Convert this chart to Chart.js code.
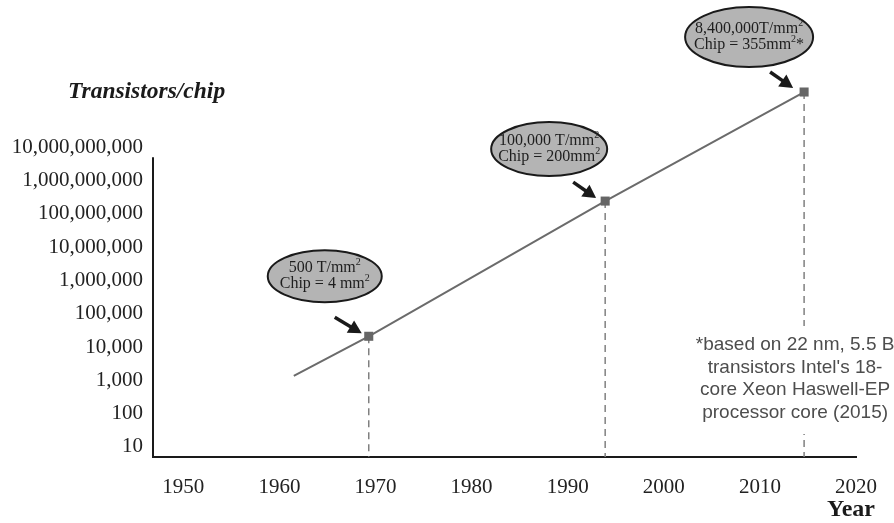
<!DOCTYPE html>
<html lang="en">
<head>
  <meta charset="UTF-8">
  <title>Transistors per chip</title>
  <style>
    body { margin: 0; background: #ffffff; }
    .wrap { width: 894px; height: 523px; position: relative; }
  </style>
  <script src="https://cdn.jsdelivr.net/npm/chart.js"></script>
</head>
<body>
  <div class="wrap"><canvas id="chart"></canvas></div>

  <script>
    // trend line: start of the line, then the three marked chips
    const years = [1961.5, 1969.3, 1993.9, 2014.6];
    const transistors = [1350, 21000, 240000000, 450000000000];
    const marked = [false, true, true, true];

    // axis ticks
    const yearTicks = [1950, 1960, 1970, 1980, 1990, 2000, 2010, 2020];
    const countTicks = [10, 100, 1000, 1e4, 1e5, 1e6, 1e7, 1e8, 1e9, 1e10];

    // bubble text for marked points 1..3, pieces are [text, superscript]
    const bubbleText = [
      [[['500 T/mm', false], ['2', true]], [['Chip = 4 mm', false], ['2', true]]],
      [[['100,000 T/mm', false], ['2', true]], [['Chip = 200mm', false], ['2', true]]],
      [[['8,400,000T/mm', false], ['2', true]], [['Chip = 355mm', false], ['2', true], ['*', false]]]
    ];

    const noteLines = [
      '*based on 22 nm, 5.5 B',
      "transistors Intel's 18-",
      'core Xeon Haswell-EP',
      'processor core (2015)'
    ];

    // placement of bubbles/arrows relative to their point (pixels)
    const bubbleBox = [
      { dx: -44, dy: -60, rx: 57, ry: 26, a: [-34, -19, -7, -3] },
      { dx: -56, dy: -52, rx: 58, ry: 27, a: [-32, -19, -9, -3] },
      { dx: -55, dy: -55, rx: 64, ry: 30, a: [-34, -20, -11, -4] }
    ];

    const serif = '"Liberation Serif", "Times New Roman", serif';
    const sans = '"Liberation Sans", Arial, sans-serif';

    const points = years.map((yr, i) => ({ x: yr, y: transistors[i] }));

    // dashed drop lines from each marked point to the x axis
    const dropSets = points.filter((p, i) => marked[i]).map(p => ({
      data: [p, { x: p.x, y: 5 }],
      borderColor: '#808080',
      borderWidth: 1.5,
      borderDash: [7, 5],
      pointRadius: 0,
      order: 2
    }));

    function drawPieces(ctx, pieces, cx, cy) {
      const big = 'normal 16px ' + serif;
      const small = 'normal 10px ' + serif;
      let w = 0;
      pieces.forEach(([t, sup]) => {
        ctx.font = sup ? small : big;
        w += ctx.measureText(t).width;
      });
      let x = cx - w / 2;
      pieces.forEach(([t, sup]) => {
        ctx.font = sup ? small : big;
        ctx.fillText(t, x, sup ? cy - 6 : cy);
        x += ctx.measureText(t).width;
      });
    }

    function arrow(ctx, x0, y0, x1, y1) {
      const ang = Math.atan2(y1 - y0, x1 - x0);
      const head = 15;
      ctx.strokeStyle = '#1a1a1a';
      ctx.fillStyle = '#1a1a1a';
      ctx.lineWidth = 3.5;
      ctx.beginPath();
      ctx.moveTo(x0, y0);
      ctx.lineTo(x1 - Math.cos(ang) * head * 0.8, y1 - Math.sin(ang) * head * 0.8);
      ctx.stroke();
      ctx.beginPath();
      ctx.moveTo(x1, y1);
      ctx.lineTo(x1 - head * Math.cos(ang - 0.5), y1 - head * Math.sin(ang - 0.5));
      ctx.lineTo(x1 - head * Math.cos(ang + 0.5), y1 - head * Math.sin(ang + 0.5));
      ctx.closePath();
      ctx.fill();
    }

    const annotate = {
      id: 'annotate',
      afterDatasetsDraw(chart) {
        const ctx = chart.ctx;
        const xs = chart.scales.x, ys = chart.scales.y;
        const area = chart.chartArea;
        ctx.save();

        // y axis line stops just under the top tick
        ctx.strokeStyle = '#1a1a1a';
        ctx.lineWidth = 2;
        ctx.beginPath();
        ctx.moveTo(area.left, ys.getPixelForValue(5e9));
        ctx.lineTo(area.left, area.bottom + 1);
        ctx.stroke();

        // bubbles + arrows
        const marks = points.filter((p, i) => marked[i]);
        marks.forEach((p, k) => {
          const px = xs.getPixelForValue(p.x), py = ys.getPixelForValue(p.y);
          const b = bubbleBox[k];
          const cx = px + b.dx, cy = py + b.dy;
          ctx.beginPath();
          ctx.ellipse(cx, cy, b.rx, b.ry, 0, 0, Math.PI * 2);
          ctx.fillStyle = '#b4b4b4';
          ctx.fill();
          ctx.lineWidth = 2;
          ctx.strokeStyle = '#1a1a1a';
          ctx.stroke();

          ctx.fillStyle = '#1e1e1e';
          ctx.textBaseline = 'middle';
          ctx.textAlign = 'left';
          drawPieces(ctx, bubbleText[k][0], cx, cy - 8);
          drawPieces(ctx, bubbleText[k][1], cx, cy + 8);

          arrow(ctx, px + b.a[0], py + b.a[1], px + b.a[2], py + b.a[3]);
        });

        // footnote with white backing over the dashed line
        const last = marks[marks.length - 1];
        const nx = xs.getPixelForValue(last.x) - 9;
        const ny = area.bottom - 112;
        ctx.font = '19px ' + sans;
        ctx.textAlign = 'center';
        ctx.textBaseline = 'middle';
        ctx.fillStyle = '#ffffff';
        ctx.fillRect(nx - 100, ny - 19, 200, 108);
        ctx.fillStyle = '#4d4d4d';
        noteLines.forEach((t, i) => ctx.fillText(t, nx, ny + i * 22.5));

        // axis titles
        ctx.fillStyle = '#1a1a1a';
        ctx.textAlign = 'left';
        ctx.font = 'italic bold 23.5px ' + serif;
        ctx.fillText('Transistors/chip', 68, 92);
        ctx.font = 'bold 24px ' + serif;
        ctx.fillText('Year', 827, 510);

        ctx.restore();
      }
    };

    new Chart(document.getElementById('chart'), {
      type: 'line',
      data: {
        datasets: [
          {
            data: points,
            borderColor: '#6b6b6b',
            borderWidth: 2,
            pointStyle: 'rect',
            pointRadius: marked.map(m => (m ? 6.4 : 0)),
            pointBackgroundColor: '#666666',
            pointBorderWidth: 0,
            order: 1
          },
          ...dropSets
        ]
      },
      options: {
        responsive: true,
        maintainAspectRatio: false,
        animation: false,
        layout: { autoPadding: false, padding: { left: 0, right: 38, top: 0, bottom: 0 } },
        plugins: { legend: { display: false }, tooltip: { enabled: false } },
        scales: {
          x: {
            type: 'linear',
            min: 1946.85,
            max: 2020,
            grid: { display: false, drawTicks: false },
            border: { display: true, color: '#1a1a1a', width: 2 },
            afterBuildTicks: s => { s.ticks = yearTicks.map(v => ({ value: v })); },
            afterFit: s => { s.height = 66; s.paddingLeft = 0; s.paddingRight = 0; },
            ticks: {
              autoSkip: false,
              maxRotation: 0,
              padding: 18,
              color: '#222222',
              font: { family: serif, size: 21 },
              callback: v => String(v)
            }
          },
          y: {
            type: 'logarithmic',
            min: 5,
            max: 2.6e14,
            grid: { display: false, drawTicks: false },
            border: { display: false },
            afterBuildTicks: s => { s.ticks = countTicks.map(v => ({ value: v })); },
            afterFit: s => { s.width = 153; s.paddingTop = 0; s.paddingBottom = 0; },
            ticks: {
              autoSkip: false,
              padding: 10,
              color: '#222222',
              font: { family: serif, size: 21 },
              callback: v => Number(v).toLocaleString('en-US')
            }
          }
        }
      },
      plugins: [annotate]
    });
  </script>
</body>
</html>
